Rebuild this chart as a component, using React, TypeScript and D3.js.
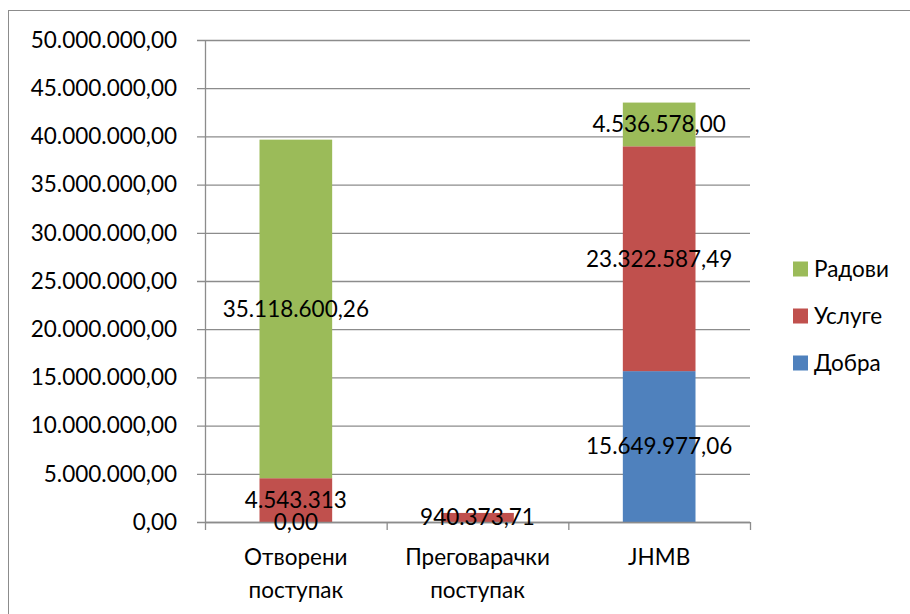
import * as d3 from 'd3';
import React, { useEffect, useRef } from 'react';

const categories = [['Отворени', 'поступак'], ['Преговарачки', 'поступак'], ['JHMB']];
const seriesNames = ['Добра', 'Услуге', 'Радови'];
const dobra = [0, 0, 15649977.06];
const usluge = [4543313, 940373.71, 23322587.49];
const radovi = [35118600.26, 0, 4536578.0];
const labels = [
  ['0,00', '4.543.313', '35.118.600,26'],
  [null, '940.373,71', null],
  ['15.649.977,06', '23.322.587,49', '4.536.578,00'],
];
const yTicks = [0, 5e6, 10e6, 15e6, 20e6, 25e6, 30e6, 35e6, 40e6, 45e6, 50e6];
const colors = ['#4F81BD', '#C0504D', '#9BBB59'];

const fmt = (v) => d3.format(',.2f')(v).replace(/,/g, '#').replace('.', ',').replace(/#/g, '.');

const App = () => {
  const ref = useRef<SVGSVGElement | null>(null);

  useEffect(() => {
    if (!ref.current) return;
    const svg = d3.select(ref.current);
    svg.selectAll('*').remove();

    const left = 205;
    const right = 750;
    const top = 40;
    const bottom = 522;
    const font = 'Lato, "Open Sans", sans-serif';
    const fs = 22.5;
    const gridColor = '#8c8c8c';

    svg.append('rect').attr('x', 8.5).attr('y', 10.5).attr('width', 1000).attr('height', 1000).attr('fill', 'none').attr('stroke', gridColor);

    const x = d3.scaleBand().domain(categories.map((d, i) => String(i))).range([left, right]).paddingInner(0.6).paddingOuter(0.3);
    const xb = d3.scaleBand().domain(categories.map((d, i) => String(i))).range([left, right]);
    const y = d3.scaleLinear().domain([0, 50e6]).range([bottom, top]);

    const g = svg.append('g');
    yTicks.forEach((t) => {
      g.append('line').attr('x1', left - 8).attr('x2', right).attr('y1', y(t) + 0.5).attr('y2', y(t) + 0.5).attr('stroke', gridColor).attr('stroke-width', 1.3);
      g.append('text').attr('x', 177).attr('y', y(t)).attr('dy', '0.35em').attr('text-anchor', 'end').attr('font-family', font).attr('font-size', fs).attr('fill', '#000').text(fmt(t));
    });
    g.append('line').attr('x1', left + 0.5).attr('x2', left + 0.5).attr('y1', top).attr('y2', bottom).attr('stroke', gridColor).attr('stroke-width', 1.3);

    const table = categories.map((c, i) => ({ key: String(i), Добра: dobra[i], Услуге: usluge[i], Радови: radovi[i] }));
    const stack = d3.stack().keys(seriesNames)(table);

    stack.forEach((layer, si) => {
      g.selectAll(null)
        .data(layer)
        .enter()
        .append('rect')
        .attr('x', (d) => x(d.data.key))
        .attr('width', x.bandwidth())
        .attr('y', (d) => y(d[1]))
        .attr('height', (d) => y(d[0]) - y(d[1]))
        .attr('fill', colors[si]);
    });

    // bottom axis over bars
    g.append('line').attr('x1', left).attr('x2', right).attr('y1', bottom + 0.5).attr('y2', bottom + 0.5).attr('stroke', gridColor).attr('stroke-width', 1.3);
    [0, 1, 2, 3].forEach((i) => {
      const xx = i < 3 ? xb(String(i)) : right;
      g.append('line').attr('x1', xx + 0.5).attr('x2', xx + 0.5).attr('y1', bottom).attr('y2', bottom + 8).attr('stroke', gridColor).attr('stroke-width', 1.3);
    });

    stack.forEach((layer, si) => {
      layer.forEach((d, ci) => {
        const txt = labels[ci][si];
        if (!txt) return;
        g.append('text')
          .attr('x', x(d.data.key) + x.bandwidth() / 2)
          .attr('y', (y(d[0]) + y(d[1])) / 2)
          .attr('dy', '0.35em')
          .attr('text-anchor', 'middle')
          .attr('font-family', font)
          .attr('font-size', fs)
          .attr('fill', '#000')
          .text(txt);
      });
    });

    categories.forEach((lines, i) => {
      const cx = xb(String(i)) + xb.bandwidth() / 2;
      lines.forEach((line, li) => {
        g.append('text').attr('x', cx).attr('y', 557 + li * 33).attr('dy', '0.35em').attr('text-anchor', 'middle').attr('font-family', font).attr('font-size', fs).attr('fill', '#000').text(line);
      });
    });

    const legend = svg.append('g');
    [2, 1, 0].forEach((si, k) => {
      const ly = 269 + k * 47;
      legend.append('rect').attr('x', 793).attr('y', ly - 7.5).attr('width', 15).attr('height', 15).attr('fill', colors[si]);
      legend.append('text').attr('x', 814).attr('y', ly).attr('dy', '0.35em').attr('font-family', font).attr('font-size', fs).attr('fill', '#000').text(seriesNames[si]);
    });
  }, []);

  return <svg ref={ref} width={910} height={614} style={{ position: 'absolute', left: 0, top: 0, background: '#fff' }} />;
};

export default App;
